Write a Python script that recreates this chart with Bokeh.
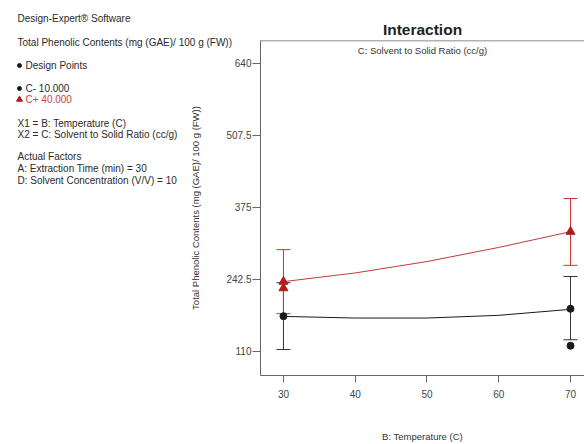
from bokeh.plotting import figure
from bokeh.models import (Range1d, FixedTicker, ColumnDataSource, Whisker, TeeHead,
                          Label, Span)
from bokeh.core.properties import value
from bokeh.embed import file_html
from bokeh.resources import INLINE

FONT = "Liberation Sans"
W, H = 584, 444
FRAME_L, FRAME_T, FRAME_B = 260, 40, 375

# ---- data ----
temp_grid = [30, 40, 50, 60, 70]
pred_c_minus = [174, 171, 171, 176, 187]
pred_c_plus = [238, 254, 275, 301, 330]

ci_b = [30, 70]
ci_minus_low = [113, 131]
ci_minus_high = [236, 247.5]
ci_plus_low = [179, 268]
ci_plus_high = [297, 391]

dp_minus_b = [30, 70, 70]
dp_minus_y = [174.5, 188, 120]
dp_plus_b = [30, 30, 70]
dp_plus_y = [238, 226, 330]

y_ticks = [110, 242.5, 375, 507.5, 640]
y_tick_labels = ["110", "242.5", "375", "507.5", "640"]
x_ticks = [30, 40, 50, 60, 70]

X_START, X_END = 26.8, 71.95
Y_START, Y_END = 65.2, 682.0

info_lines = [
    ("Design-Expert® Software", "#2a2a2a"),
    ("Total Phenolic Contents (mg (GAE)/ 100 g (FW))", "#2a2a2a"),
    ("Design Points", "#2a2a2a"),
    ("C- 10.000", "#2a2a2a"),
    ("C+ 40.000", "#cc4444"),
    ("X1 = B: Temperature (C)", "#2a2a2a"),
    ("X2 = C: Solvent to Solid Ratio (cc/g)", "#2a2a2a"),
    ("Actual Factors", "#2a2a2a"),
    ("A: Extraction Time (min) = 30", "#2a2a2a"),
    ("D: Solvent Concentration (V/V) = 10", "#2a2a2a"),
]
info_x = [17, 17, 25, 25, 25, 17, 17, 17, 17, 17]
info_y = [18, 42, 65, 88, 99, 123, 134, 156, 168, 180]

RED = "#b01c1c"
RED_LINE = "#c23a3a"
BLACK = "#1a1a1a"

# ---- main chart ----
p = figure(width=W, height=H, x_range=Range1d(X_START, X_END),
           y_range=Range1d(Y_START, Y_END), output_backend="svg",
           toolbar_location=None, min_border_left=FRAME_L, min_border_right=0,
           min_border_top=FRAME_T, min_border_bottom=H - FRAME_B)
p.grid.visible = False
p.outline_line_color = None
p.background_fill_color = "white"

p.title.text = "Interaction"
p.title.align = "center"
p.title.text_font = FONT
p.title.text_font_size = "15.5px"
p.title.text_font_style = "bold"
p.title.text_color = "#222222"
p.title.standoff = 5

p.add_layout(Span(location=Y_END, dimension="width", line_color="#666666", line_width=1.5))

for ax in (p.xaxis[0], p.yaxis[0]):
    ax.axis_line_color = "#666666"
    ax.major_tick_line_color = "#666666"
    ax.minor_tick_line_color = None
    ax.major_tick_in = 0
    ax.major_tick_out = 8
    ax.major_label_text_font = FONT
    ax.major_label_text_font_size = "10px"
    ax.major_label_text_color = "#444444"
    ax.axis_label_text_font = FONT
    ax.axis_label_text_font_size = "9.5px"
    ax.axis_label_text_font_style = "normal"
    ax.axis_label_text_color = "#333333"

p.xaxis[0].ticker = FixedTicker(ticks=x_ticks)
p.xaxis[0].major_tick_out = 7
p.xaxis[0].axis_label = "B: Temperature (C)"
p.xaxis[0].major_label_standoff = 7
p.xaxis[0].axis_label_standoff = 30

p.yaxis[0].ticker = FixedTicker(ticks=y_ticks)
p.yaxis[0].major_label_overrides = {t: l for t, l in zip(y_ticks, y_tick_labels)}
p.yaxis[0].axis_label = "Total Phenolic Contents (mg (GAE)/ 100 g (FW))"
p.yaxis[0].major_label_standoff = 1
p.yaxis[0].axis_label_standoff = 22

p.add_layout(Label(x=(X_START + X_END) / 2, y=Y_END, text="C: Solvent to Solid Ratio (cc/g)",
                   text_align="center", text_baseline="middle", y_offset=-10,
                   text_font=FONT, text_font_size="9.5px", text_color="#333333"))

# prediction lines
p.line(temp_grid, pred_c_minus, line_color=BLACK, line_width=1)
p.line(temp_grid, pred_c_plus, line_color=RED_LINE, line_width=1)

# confidence bars
src_m = ColumnDataSource(dict(b=ci_b, lo=ci_minus_low, hi=ci_minus_high))
src_p = ColumnDataSource(dict(b=ci_b, lo=ci_plus_low, hi=ci_plus_high))
for src, col in ((src_m, "#333333"), (src_p, "#cc3333")):
    w = Whisker(source=src, base="b", lower="lo", upper="hi", dimension="height",
                line_color=col, line_width=1,
                upper_head=TeeHead(size=14, line_color=col, line_width=1),
                lower_head=TeeHead(size=14, line_color=col, line_width=1))
    p.add_layout(w)

# design points
p.scatter(dp_minus_b, dp_minus_y, marker="circle", size=7, color=BLACK)
p.scatter(dp_plus_b, dp_plus_y, marker="triangle", size=9, color=RED)

# ---- transparent overlay for the info panel (canvas-pixel coordinates) ----
info = figure(width=W, height=H, x_range=Range1d(0, W), y_range=Range1d(H, 0),
              x_axis_type=None, y_axis_type=None, output_backend="svg",
              toolbar_location=None, min_border=0)
info.grid.visible = False
info.outline_line_color = None
info.background_fill_color = None
info.border_fill_color = None
info.styles = {"position": "absolute", "left": "0px", "top": "0px", "pointer-events": "none"}
info.text(x=info_x, y=info_y, text=[t for t, c in info_lines],
          text_color=[c for t, c in info_lines], text_font=value(FONT),
          text_font_size="10px", text_baseline="middle")
info.scatter(x=[19, 19], y=[65, 88], marker="circle", size=4, color=BLACK)
info.scatter(x=[19], y=[99], marker="triangle", size=6, color=RED)

open("out.html", "w").write(file_html([p, info], INLINE))
